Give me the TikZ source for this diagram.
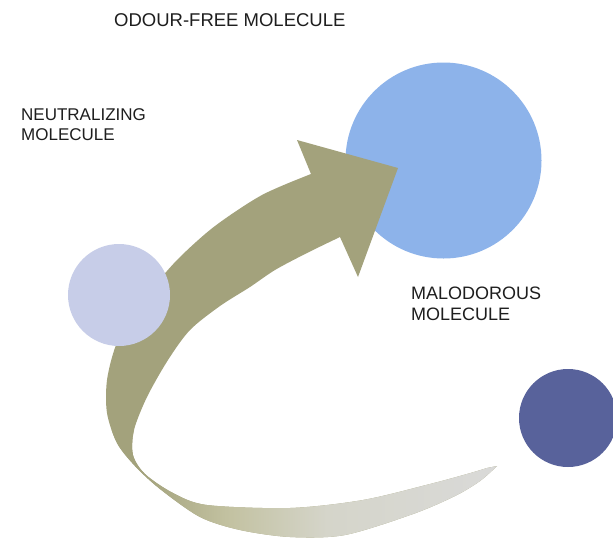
\documentclass[tikz,border=0pt]{standalone}
\usepackage{fontspec}
\setmainfont{Liberation Sans}
\definecolor{olv}{RGB}{163,162,124}
\definecolor{olvlight}{RGB}{194,193,160}
\definecolor{fadegray}{RGB}{213,213,202}
\definecolor{tailgray}{RGB}{218,218,218}
\definecolor{bigblue}{RGB}{141,179,234}
\definecolor{lavender}{RGB}{199,205,232}
\definecolor{navy}{RGB}{88,98,155}
\definecolor{txt}{RGB}{30,30,30}
\pgfdeclarehorizontalshading{ribbonfade}{100bp}{color(0bp)=(olv); color(25bp)=(olv); color(30bp)=(olv); color(40bp)=(olvlight); color(52bp)=(fadegray); color(75bp)=(tailgray); color(100bp)=(tailgray)}
\tikzset{
  molecule/.style={circle, inner sep=0pt, draw=none},
  lbl/.style={inner sep=0pt, text=txt, align=left}
}
\begin{document}
\begin{tikzpicture}[x=1pt,y=-1pt]
\clip (0,0) rectangle (613,539);
\fill[white] (0,0) rectangle (613,539);
% big light blue molecule (behind the arrow head)
\node[molecule, fill=bigblue, minimum size=196pt] (odourfree) at (443.5,160.5) {};
% curved ribbon arrow
\begin{scope}
\clip plot[smooth] coordinates {(311,174) (262,195) (215,226) (180,257) (155,285) (133,313) (116,345) (107,380) (107,413) (117,443) (135,466) (160,489) (200,517) (240,530) (290,537) (345,535) (413,514) (455,496) (480,481) (497,466)}
  -- plot[smooth] coordinates {(487,468) (467,474) (430,484) (363,500) (290,508) (207,505) (173,493) (145,474) (133,455) (134,430) (147,397) (168,360) (190,330) (220,306) (250,287) (275,270) (307,253) (340,237)}
  -- (358,277) -- (398,168) -- (297,140) -- cycle;
\fill[olv] (0,0) rectangle (613,539);
\shade[shading=ribbonfade] (100,430) rectangle (520,539);
\end{scope}
% neutralizing molecule
\node[molecule, fill=lavender, minimum size=102pt] (neutral) at (119,295) {};
% malodorous molecule
\node[molecule, fill=navy, minimum size=98pt] (malodor) at (568,418) {};
% labels
\node[lbl, font=\fontsize{18.5}{21}\selectfont, anchor=north west] (oflabel) at (114,13) {ODOUR-FREE MOLECULE};
\node[lbl, font=\fontsize{17}{20}\selectfont, anchor=north west] (nmlabel) at (21,108) {NEUTRALIZING\\MOLECULE};
\node[lbl, font=\fontsize{18}{20.5}\selectfont, anchor=north west] (mmlabel) at (411,287) {MALODOROUS\\MOLECULE};
\end{tikzpicture}
\end{document}
